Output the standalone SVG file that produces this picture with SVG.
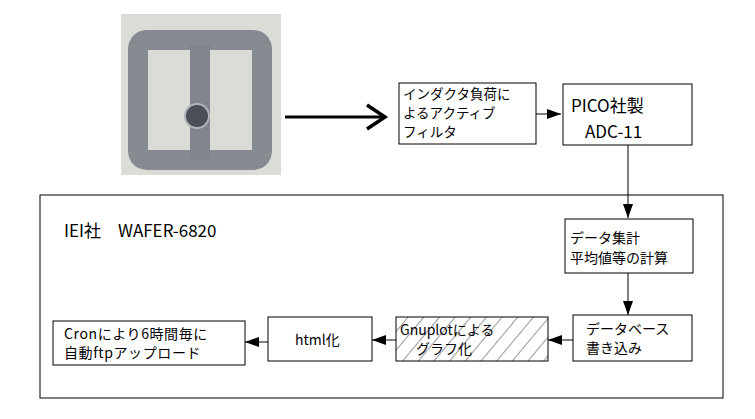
<svg xmlns="http://www.w3.org/2000/svg" width="755" height="419" viewBox="0 0 755 419">
<defs>
<style>
.b{fill:#fff;stroke:#000;stroke-width:1}
.t{font-family:"Noto Sans CJK JP","DejaVu Sans",sans-serif;font-size:14px;fill:#000}
.c{stroke:#000;stroke-width:1;fill:none}
</style>
<marker id="a" markerWidth="14" markerHeight="10" refX="14" refY="5" orient="auto" markerUnits="userSpaceOnUse"><path d="M0,0L14,5L0,10z" fill="#000"/></marker>
<pattern id="h" width="12" height="12" patternUnits="userSpaceOnUse" patternTransform="rotate(40)"><line x1="0" y1="0" x2="0" y2="12" stroke="#000" stroke-width="0.8"/></pattern>
</defs>
<rect width="755" height="419" fill="#fff"/>
<g id="photo">
<rect x="121" y="14" width="160" height="161" fill="#dcdcd6"/>
<path d="M138,60 V150 Q138,160 148,160 H252 Q262,160 262,150 V50 Q262,40 252,40 H148 Q138,40 138,50 Z" fill="none" stroke="#858b91" stroke-width="20"/>
<path d="M200,45 V160" stroke="#7f858b" stroke-width="20"/>
<circle cx="197" cy="116" r="12" fill="#4a4f55" stroke="#b0b4b8" stroke-width="2"/>
</g>
<g id="connectors">
<path d="M285,117 H383" stroke="#000" stroke-width="3"/>
<path d="M367,105 L385,117 L367,129" fill="none" stroke="#000" stroke-width="3.5"/>
<path class="c" d="M536,114 H561" marker-end="url(#a)"/>
<path class="c" d="M628,145 V218" marker-end="url(#a)"/>
<path class="c" d="M628,273 V315" marker-end="url(#a)"/>
<path class="c" d="M573,340 H548" marker-end="url(#a)"/>
<path class="c" d="M396,340 H372" marker-end="url(#a)"/>
<path class="c" d="M268,342 H245" marker-end="url(#a)"/>
</g>
<g id="filter"><rect class="b" x="399" y="83" width="137" height="61"/>
<text class="t" x="403" y="99" style="font-size:13.5px">インダクタ負荷に</text><text class="t" x="403" y="118" style="font-size:13.5px">よるアクティブ</text><text class="t" x="403" y="137" style="font-size:13.5px">フィルタ</text></g>
<g id="pico"><rect class="b" x="563" y="84" width="129" height="61"/>
<text class="t" x="571" y="112" style="font-size:17px">PICO社製</text><text class="t" x="585" y="138" style="font-size:17px">ADC-11</text></g>
<g id="wafer"><rect x="40" y="195" width="683" height="203" fill="none" stroke="#000"/>
<text class="t" x="64" y="237" style="font-size:17px">IEI社　WAFER-6820</text></g>
<g id="calc"><rect class="b" x="565" y="219" width="128" height="54"/>
<text class="t" x="570" y="243">データ集計</text><text class="t" x="570" y="263">平均値等の計算</text></g>
<g id="db"><rect class="b" x="573" y="315" width="119" height="46"/>
<text class="t" x="586" y="334">データベース</text><text class="t" x="586" y="353">書き込み</text></g>
<g id="gnuplot"><rect x="396" y="317" width="152" height="44" fill="url(#h)" stroke="#000"/>
<text class="t" x="400" y="335">Gnuplotによる</text><text class="t" x="416" y="354">グラフ化</text></g>
<g id="html"><rect class="b" x="268" y="317" width="104" height="44"/>
<text class="t" x="295" y="345">html化</text></g>
<g id="cron"><rect class="b" x="53" y="321" width="192" height="44"/>
<text class="t" x="64" y="339" style="letter-spacing:0.6px">Cronにより6時間毎に</text><text class="t" x="64" y="358" style="letter-spacing:0.6px">自動ftpアップロード</text></g>
</svg>
